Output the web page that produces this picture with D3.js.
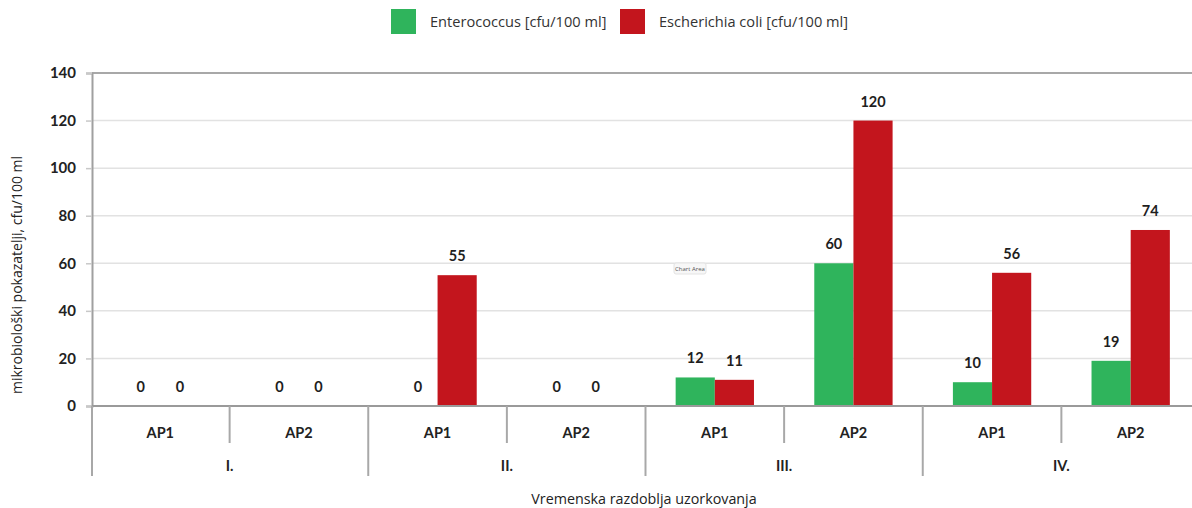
<!DOCTYPE html>
<html>
<head>
<meta charset="utf-8">
<script src="https://cdn.jsdelivr.net/npm/d3@7"></script>
<style>
  html, body { margin: 0; padding: 0; background: #fff; }
  svg { display: block; }
</style>
</head>
<body>
<svg id="chart" width="1192" height="508"></svg>
<script>
// Sampling periods and sampling points
const periods = ["I.", "II.", "III.", "IV."];
const points = ["AP1", "AP2"];
const seriesNames = ["Enterococcus [cfu/100 ml]", "Escherichia coli [cfu/100 ml]"];
const seriesColors = ["#2fb45c", "#c3151d"];
// values listed per period × point: I.AP1, I.AP2, II.AP1, II.AP2, III.AP1, III.AP2, IV.AP1, IV.AP2
const enterococcus = [0, 0, 0, 0, 12, 60, 10, 19];
const ecoli = [0, 0, 55, 0, 11, 120, 56, 74];
const yTicks = [0, 20, 40, 60, 80, 100, 120, 140];

const svg = d3.select("#chart");
const axisX = 92, plotL = 91, plotR = 1200, plotT = 73, plotB = 406;
const boldFont = "Lato, 'Open Sans', sans-serif";
const textFont = "'Open Sans', sans-serif";

const slots = [];
periods.forEach(p => points.forEach(ap => slots.push(p + "|" + ap)));
const rows = slots.map((k, i) => ({ key: k, values: [enterococcus[i], ecoli[i]] }));

const x0 = d3.scaleBand().domain(slots).range([plotL, plotR]).padding(0);
const x1 = d3.scaleBand().domain([0, 1]).range([0, x0.bandwidth()]).paddingInner(0).paddingOuter(0.77);
const y = d3.scaleLinear().domain([0, 140]).range([plotB, plotT]);

// gridlines
svg.append("g").selectAll("line").data(yTicks.filter(t => t > 0)).join("line")
  .attr("x1", axisX).attr("x2", 1192)
  .attr("y1", d => y(d)).attr("y2", d => y(d))
  .attr("stroke", d => d === 140 ? "#a8a8a8" : "#e2e2e2")
  .attr("stroke-width", d => d === 140 ? 2 : 1.5);

// y axis
const yAxis = svg.append("g").attr("transform", `translate(${axisX},0)`)
  .call(d3.axisLeft(y).tickValues(yTicks).tickSize(6).tickPadding(10));
yAxis.select(".domain").attr("stroke", "#a0a0a0").attr("stroke-width", 2);
yAxis.selectAll(".tick line").attr("stroke", "#c8c8c8").attr("stroke-width", 1.5);
yAxis.selectAll(".tick text")
  .attr("font-family", boldFont).attr("font-weight", "bold")
  .attr("font-size", 15).attr("fill", "#222");

// bars
const groups = svg.append("g").selectAll("g").data(rows).join("g")
  .attr("transform", d => `translate(${x0(d.key)},0)`);
groups.selectAll("rect").data(d => d.values.map((v, i) => ({ v, i })).filter(e => e.v > 0)).join("rect")
  .attr("x", e => x1(e.i)).attr("width", x1.bandwidth())
  .attr("y", e => y(e.v)).attr("height", e => y(0) - y(e.v))
  .attr("fill", e => seriesColors[e.i]);
groups.selectAll("text").data(d => d.values.map((v, i) => ({ v, i }))).join("text")
  .attr("x", e => x1(e.i) + x1.bandwidth() / 2)
  .attr("y", e => y(e.v) - 14)
  .attr("text-anchor", "middle")
  .attr("font-family", boldFont).attr("font-weight", "bold")
  .attr("font-size", 14.5).attr("fill", "#1e1e1e")
  .text(e => e.v);

// baseline
svg.append("line").attr("x1", axisX).attr("x2", 1192).attr("y1", plotB).attr("y2", plotB)
  .attr("stroke", "#9a9a9a").attr("stroke-width", 2);

// category separators: short between points, long between periods
const bounds = d3.range(slots.length + 1).map(i => i === 0 ? axisX : plotL + i * x0.step());
svg.append("g").selectAll("line").data(bounds).join("line")
  .attr("x1", d => d).attr("x2", d => d)
  .attr("y1", plotB)
  .attr("y2", (d, i) => i % 2 === 0 ? 476 : 443)
  .attr("stroke", "#a8a8a8").attr("stroke-width", 2);

// point labels
svg.append("g").selectAll("text").data(slots).join("text")
  .attr("x", d => x0(d) + x0.bandwidth() / 2).attr("y", 438)
  .attr("text-anchor", "middle")
  .attr("font-family", boldFont).attr("font-weight", "bold")
  .attr("font-size", 14.5).attr("fill", "#222")
  .text(d => d.split("|")[1]);

// period labels
svg.append("g").selectAll("text").data(periods).join("text")
  .attr("x", (d, i) => plotL + (i * 2 + 1) * x0.step()).attr("y", 471)
  .attr("text-anchor", "middle")
  .attr("font-family", boldFont).attr("font-weight", "bold")
  .attr("font-size", 14.5).attr("fill", "#222")
  .text(d => d);

// axis titles
svg.append("text").attr("x", 644).attr("y", 504).attr("text-anchor", "middle")
  .attr("font-family", textFont).attr("font-size", 14.3).attr("fill", "#222")
  .text("Vremenska razdoblja uzorkovanja");
svg.append("text").attr("transform", "translate(22,275) rotate(-90)").attr("text-anchor", "middle")
  .attr("font-family", textFont).attr("font-size", 14).attr("fill", "#222")
  .text("mikrobiološki pokazatelji, cfu/100 ml");

// small hover hint box
const hint = svg.append("g").attr("transform", "translate(674,263)");
hint.append("rect").attr("width", 32).attr("height", 11).attr("rx", 2)
  .attr("fill", "#f7f7f7").attr("stroke", "#e3e3e3");
hint.append("text").attr("x", 16).attr("y", 8).attr("text-anchor", "middle")
  .attr("font-family", textFont).attr("font-size", 6).attr("fill", "#555")
  .text("Chart Area");

// legend
const legendX = [391, 620];
const legend = svg.append("g").selectAll("g").data(seriesNames).join("g")
  .attr("transform", (d, i) => `translate(${legendX[i]},9)`);
legend.append("rect").attr("width", 25).attr("height", 25).attr("fill", (d, i) => seriesColors[i]);
legend.append("text").attr("x", 39).attr("y", 18)
  .attr("font-family", textFont).attr("font-size", 14.6).attr("fill", "#333")
  .text(d => d);
</script>
</body>
</html>
